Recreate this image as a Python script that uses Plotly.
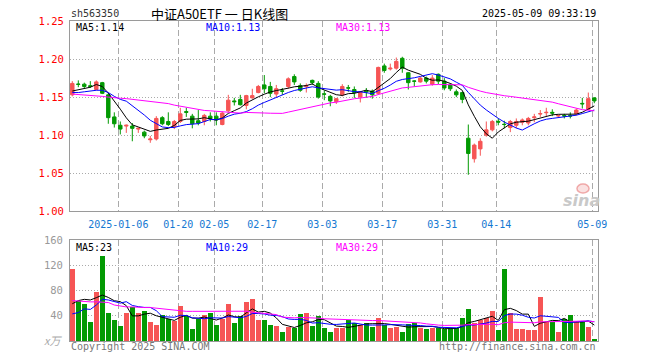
import plotly.graph_objects as go
import pandas as pd

# ---------------- data ----------------
dates = [
    "2024-12-24", "2024-12-25", "2024-12-26", "2024-12-27", "2024-12-30", "2024-12-31",
    "2025-01-02", "2025-01-03", "2025-01-06", "2025-01-07", "2025-01-08", "2025-01-09", "2025-01-10",
    "2025-01-13", "2025-01-14", "2025-01-15", "2025-01-16", "2025-01-17", "2025-01-20", "2025-01-21",
    "2025-01-22", "2025-01-23", "2025-01-24", "2025-01-27",
    "2025-02-05", "2025-02-06", "2025-02-07", "2025-02-10", "2025-02-11", "2025-02-12", "2025-02-13",
    "2025-02-14", "2025-02-17", "2025-02-18", "2025-02-19", "2025-02-20", "2025-02-21", "2025-02-24",
    "2025-02-25", "2025-02-26", "2025-02-27", "2025-02-28",
    "2025-03-03", "2025-03-04", "2025-03-05", "2025-03-06", "2025-03-07", "2025-03-10", "2025-03-11",
    "2025-03-12", "2025-03-13", "2025-03-14", "2025-03-17", "2025-03-18", "2025-03-19", "2025-03-20",
    "2025-03-21", "2025-03-24", "2025-03-25", "2025-03-26", "2025-03-27", "2025-03-28", "2025-03-31",
    "2025-04-01", "2025-04-02", "2025-04-03", "2025-04-07", "2025-04-08", "2025-04-09", "2025-04-10",
    "2025-04-11", "2025-04-14", "2025-04-15", "2025-04-16", "2025-04-17", "2025-04-18", "2025-04-21",
    "2025-04-22", "2025-04-23", "2025-04-24", "2025-04-25", "2025-04-28", "2025-04-29", "2025-04-30",
    "2025-05-06", "2025-05-07", "2025-05-08", "2025-05-09",
]

opens = [
    1.153, 1.1671, 1.167, 1.165, 1.160, 1.169, 1.153, 1.124, 1.113, 1.112,
    1.112, 1.108, 1.104, 1.094, 1.095, 1.123, 1.118, 1.111, 1.118, 1.131,
    1.125, 1.119, 1.118, 1.125, 1.125, 1.114, 1.132, 1.145, 1.147, 1.139,
    1.149, 1.156, 1.166, 1.164, 1.154, 1.1581, 1.164, 1.177, 1.165, 1.164,
    1.172, 1.168, 1.1542, 1.151, 1.144, 1.153, 1.1622, 1.160, 1.150, 1.158,
    1.158, 1.155, 1.191, 1.187, 1.188, 1.201, 1.182, 1.1712, 1.170, 1.175,
    1.167, 1.180, 1.171, 1.166, 1.157, 1.156, 1.096, 1.069, 1.082, 1.100,
    1.107, 1.1182, 1.1143, 1.110, 1.113, 1.117, 1.116, 1.123, 1.1278, 1.1295,
    1.130, 1.1252, 1.1258, 1.1258, 1.128, 1.1418, 1.134, 1.149,
]
highs = [
    1.171, 1.172, 1.169, 1.171, 1.172, 1.170, 1.155, 1.130, 1.118, 1.114,
    1.116, 1.110, 1.106, 1.099, 1.125, 1.125, 1.130, 1.120, 1.136, 1.136,
    1.128, 1.133, 1.128, 1.130, 1.130, 1.131, 1.153, 1.149, 1.153, 1.153,
    1.161, 1.166, 1.179, 1.170, 1.166, 1.162, 1.176, 1.180, 1.168, 1.168,
    1.173, 1.171, 1.159, 1.153, 1.149, 1.167, 1.166, 1.164, 1.158, 1.162,
    1.160, 1.190, 1.194, 1.194, 1.202, 1.203, 1.183, 1.172, 1.177, 1.177,
    1.179, 1.181, 1.175, 1.168, 1.160, 1.157, 1.114, 1.089, 1.096, 1.118,
    1.120, 1.122, 1.119, 1.120, 1.122, 1.122, 1.124, 1.128, 1.133, 1.136,
    1.134, 1.127, 1.128, 1.130, 1.135, 1.149, 1.156, 1.150,
]
lows = [
    1.151, 1.163, 1.162, 1.162, 1.159, 1.154, 1.115, 1.110, 1.101, 1.103,
    1.092, 1.103, 1.096, 1.090, 1.093, 1.113, 1.112, 1.108, 1.116, 1.124,
    1.109, 1.113, 1.113, 1.118, 1.113, 1.113, 1.130, 1.139, 1.139, 1.134,
    1.148, 1.155, 1.155, 1.150, 1.150, 1.153, 1.161, 1.166, 1.157, 1.156,
    1.166, 1.148, 1.146, 1.138, 1.141, 1.151, 1.157, 1.149, 1.143, 1.149,
    1.148, 1.153, 1.182, 1.185, 1.186, 1.182, 1.160, 1.164, 1.169, 1.168,
    1.165, 1.167, 1.159, 1.158, 1.150, 1.142, 1.048, 1.064, 1.073, 1.098,
    1.105, 1.113, 1.109, 1.104, 1.109, 1.113, 1.113, 1.117, 1.124, 1.125,
    1.125, 1.123, 1.122, 1.122, 1.126, 1.135, 1.133, 1.142,
]
closes = [
    1.168, 1.1668, 1.164, 1.164, 1.170, 1.155, 1.123, 1.115, 1.108, 1.113,
    1.109, 1.109, 1.099, 1.095, 1.122, 1.115, 1.114, 1.118, 1.128, 1.130,
    1.115, 1.116, 1.126, 1.122, 1.120, 1.129, 1.146, 1.144, 1.140, 1.152,
    1.152, 1.164, 1.161, 1.155, 1.161, 1.1578, 1.174, 1.170, 1.159, 1.165,
    1.169, 1.150, 1.1539, 1.145, 1.148, 1.164, 1.1619, 1.156, 1.157, 1.157,
    1.153, 1.189, 1.185, 1.188, 1.197, 1.188, 1.169, 1.1709, 1.175, 1.171,
    1.175, 1.171, 1.162, 1.161, 1.153, 1.147, 1.076, 1.087, 1.092, 1.107,
    1.118, 1.1172, 1.1140, 1.118, 1.118, 1.120, 1.122, 1.124, 1.1283, 1.1300,
    1.129, 1.1258, 1.1252, 1.1252, 1.133, 1.1412, 1.148, 1.145,
]
volumes = [
    114, 63, 59, 30, 77, 135, 44, 33, 23, 45, 54, 44, 47, 30, 25, 41, 35, 32, 55, 40, 19, 35,
    41, 45, 26, 35, 59, 28, 40, 61, 66, 34, 34, 26, 23, 15, 22, 21, 42, 44, 23, 40, 20, 15,
    20, 20, 33, 28, 26, 28, 22, 36, 26, 20, 22, 15, 27, 29, 20, 19, 20, 20, 19, 20,
    20, 36, 50, 29, 33, 37, 47, 17, 114, 44, 19, 19, 17, 17, 69, 30, 30, 15, 35, 41,
    30, 30, 22, 3,
]

# moving-average values visible at the left edge (window extends before the chart)
ma5_head = [1.158, 1.160, 1.161, 1.163]
ma10_head = [1.156, 1.156, 1.157, 1.158, 1.159, 1.159, 1.156, 1.151, 1.147]
ma30_head = [1.154, 1.1535, 1.153, 1.152, 1.1515, 1.151, 1.150, 1.149, 1.1485, 1.148,
             1.147, 1.146, 1.1455, 1.145, 1.144, 1.143, 1.1415, 1.1395, 1.138, 1.137,
             1.136, 1.134, 1.1325, 1.132, 1.1315, 1.131, 1.130, 1.1295, 1.129]
vma5_head = [59, 64, 66, 65]
vma10_head = [43, 45, 51, 50, 57, 66, 65, 63, 60]
vma30_head = [64, 63, 63, 62, 62, 62, 61, 57, 55, 54, 54, 53, 53, 53, 52, 50, 49, 48,
              47, 47, 47, 47, 47, 48, 48, 48, 48, 48, 48]

date_ticks = ["2025-01-06", "2025-01-20", "2025-02-05", "2025-02-17", "2025-03-03",
              "2025-03-17", "2025-03-31", "2025-04-14", "2025-05-09"]
date_tick_text = ["2025-01-06", "01-20", "02-05", "02-17", "03-03", "03-17", "03-31", "04-14", "05-09"]
price_ticks = [1.00, 1.05, 1.10, 1.15, 1.20, 1.25]
vol_ticks = [40, 80, 120, 160]

code = "sh563350"
title = "中证A50ETF 一 日K线图"
stamp = "2025-05-09 09:33:19"
price_ma_text = ["MA5:1.14", "MA10:1.13", "MA30:1.13"]
vol_ma_text = ["MA5:23", "MA10:29", "MA30:29"]

# ---------------- helpers ----------------
def moving_avg(values, n, head):
    s = pd.Series(values, dtype=float).rolling(n).mean().tolist()
    s[:len(head)] = head
    return s

idx = list(range(len(dates)))
ma5 = moving_avg(closes, 5, ma5_head)
ma10 = moving_avg(closes, 10, ma10_head)
ma30 = moving_avg(closes, 30, ma30_head)
vma5 = moving_avg(volumes, 5, vma5_head)
vma10 = moving_avg(volumes, 10, vma10_head)
vma30 = moving_avg(volumes, 30, vma30_head)

RED = "#f65555"
GREEN = "#039a03"
MONO = "DejaVu Sans Mono"
W, H = 660, 360
L, R, T, B = 70, 62, 21, 19
PW, PH = W - L - R, H - T - B


def px(x):
    return (x - L) / PW


def py(y):
    return (H - B - y) / PH


grid_x = [dates.index(d) - 0.33 for d in date_ticks]
vol_colors = [RED if c > o else GREEN for o, c in zip(opens, closes)]

fig = go.Figure()
fig.add_trace(go.Candlestick(
    x=idx, open=opens, high=highs, low=lows, close=closes,
    increasing=dict(line=dict(color=RED, width=1), fillcolor=RED),
    decreasing=dict(line=dict(color=GREEN, width=1), fillcolor=GREEN),
    xaxis="x", yaxis="y", hoverinfo="skip",
))
for vals, col in [(ma5, "#000000"), (ma10, "#0000ff"), (ma30, "#ff00ff")]:
    fig.add_trace(go.Scatter(x=idx, y=vals, mode="lines", line=dict(color=col, width=1),
                             xaxis="x", yaxis="y", hoverinfo="skip"))

fig.add_trace(go.Bar(x=idx, y=volumes, marker=dict(color=vol_colors, line=dict(width=0)),
                     width=0.83, xaxis="x2", yaxis="y2", hoverinfo="skip"))
for vals, col in [(vma5, "#000000"), (vma10, "#0000ff"), (vma30, "#ff00ff")]:
    fig.add_trace(go.Scatter(x=idx, y=vals, mode="lines", line=dict(color=col, width=1),
                             xaxis="x2", yaxis="y2", hoverinfo="skip"))

xr = [-0.383, 87.617]
price_dom = [py(211.3), 1]
vol_dom = [0, py(240)]
axis_common = dict(showline=True, mirror=True, linecolor="#9a9a9a", linewidth=1,
                   zeroline=False, ticks="", gridcolor="#aaaaaa", gridwidth=1,
                   automargin=False)

fig.update_layout(
    template="none",
    width=W, height=H, autosize=False,
    margin=dict(l=L, r=R, t=T, b=B, pad=0),
    paper_bgcolor="white", plot_bgcolor="white",
    showlegend=False, boxgap=0.18, bargap=0,
    xaxis=dict(domain=[0, 1], range=xr, anchor="y", tickmode="array", tickvals=grid_x,
               ticktext=date_tick_text, tickfont=dict(family=MONO, size=10, color="#1478d2"),
               griddash="6px,3px", ticklabelstandoff=4,
               rangeslider=dict(visible=False), **axis_common),
    yaxis=dict(domain=price_dom, range=[1.0, 1.25], tickmode="array", tickvals=price_ticks,
               ticktext=[f"{v:.2f}" for v in price_ticks],
               tickfont=dict(family=MONO, size=10.5, color="#ff0000"),
               griddash="1px,2px", ticklabelstandoff=3, **axis_common),
    xaxis2=dict(domain=[0, 1], range=xr, anchor="y2", tickmode="array", tickvals=grid_x,
                showticklabels=False, griddash="6px,3px", **axis_common),
    yaxis2=dict(domain=vol_dom, range=[0, 160], tickmode="array", tickvals=vol_ticks,
                ticktext=[str(v) for v in vol_ticks],
                tickfont=dict(family=MONO, size=10.5, color="#999999"),
                griddash="1px,2px", ticklabelstandoff=4, **axis_common),
)

ann = []


def text(x, y, s, color="#000000", size=10, anchor="left", family=MONO, **kw):
    ann.append(dict(x=px(x), y=py(y), xref="paper", yref="paper", text=s, showarrow=False,
                    xanchor=anchor, yanchor="middle", font=dict(family=family, size=size, color=color), **kw))


text(69, 13, code, "#333333")
text(219, 13, title, "#000000", size=13, anchor="center", family="Noto Sans CJK SC")
text(598, 13, stamp, "#000000", anchor="right")
text(74, 27, price_ma_text[0], "#000000")
text(204, 27, price_ma_text[1], "#0000ff")
text(334, 27, price_ma_text[2], "#ff00ff")
text(74, 247, vol_ma_text[0], "#000000")
text(204, 247, vol_ma_text[1], "#0000ff")
text(334, 247, vol_ma_text[2], "#ff00ff")
text(64, 340, "<i>x万</i>", "#aaaaaa", size=11, anchor="right", family="Noto Sans CJK SC")
text(69, 346, "Copyright 2025 SINA.COM", "#777777")
text(598, 346, "http://finance.sina.com.cn", "#777777", anchor="right")
text(581, 200, "<b><i>sina</i></b>", "#c9c9c9", size=16, anchor="center", family="DejaVu Sans")
fig.update_layout(annotations=ann)

# small eye-shaped logo mark above the watermark word
fig.add_shape(type="circle", xref="paper", yref="paper",
              x0=px(577), x1=px(589), y0=py(193), y1=py(184),
              line=dict(color="#f0a8a8", width=1.5), fillcolor="rgba(240,168,168,0.35)")

fig.write_html("out.html", config={"displayModeBar": False},
               post_script="document.body.style.margin='0';document.body.style.padding='0';")
